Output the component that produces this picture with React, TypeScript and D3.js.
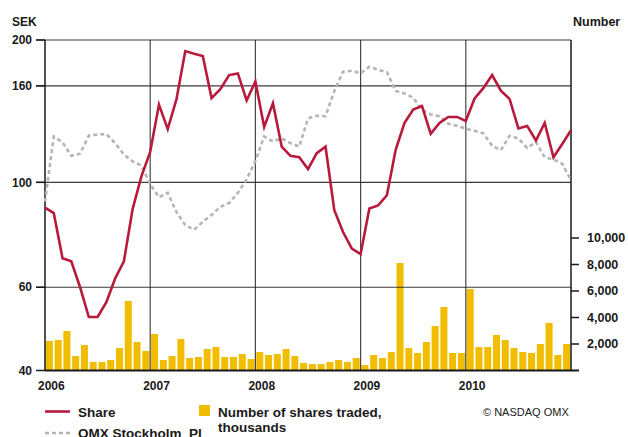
import * as d3 from 'd3';

const years = ['2006', '2007', '2008', '2009', '2010'];

// monthly closing points, Jan 2006 .. Jan 2011 (SEK)
const share = [
  88.4, 86.1, 69.1, 68.1, 60, 51.9, 51.9, 55.8, 62.6, 68.1, 87.9, 103, 116,
  146, 129.6, 150, 189.5, 187, 185, 150.7, 157.4, 168.6, 170, 149, 163.4,
  131, 147, 119, 113.8, 113, 106.7, 115.3, 119, 87.3, 78.5, 72.4, 70.5,
  88, 89.4, 93.9, 117.2, 133.5, 142.5, 145, 126.6, 133.5, 137.5, 137.5, 134.8,
  150.4, 158.2, 168.6, 156.3, 150, 130, 131.6, 122.6, 133.5, 113, 120.5, 128.9,
];

const omx = [
  91, 125, 121.5, 113.8, 115, 125.6, 126.2, 126.5, 121, 114.5, 110.7, 108.5, 99,
  93, 95, 86.5, 81.2, 79.4, 82.5, 85.3, 88.8, 90.4, 95, 101.5, 111,
  125, 122, 123.9, 121, 119, 136.5, 138.3, 138, 156, 171.4, 172.2, 170,
  175.5, 173, 171, 156, 154.2, 151, 142.5, 139.2, 138, 133, 131.8, 129.8,
  128.5, 127, 119.5, 117, 125.5, 123.8, 118.2, 121.7, 113, 111.8, 109.5, 101,
];

// shares traded per month, thousands
const volume = [
  2230, 2300, 2980, 1090, 1920, 640, 640, 790, 1700, 5250, 2150, 1470,
  2750, 790, 1090, 2380, 940, 1020, 1620, 1770, 1020, 1020, 1240, 870,
  1390, 1170, 1240, 1620, 1090, 570, 490, 490, 640, 790, 640, 940,
  415, 1170, 940, 1390, 8110, 1700, 1320, 2150, 3360, 4790, 1320, 1320,
  6150, 1770, 1770, 2680, 2300, 1700, 1390, 1320, 2000, 3590, 1170, 2000,
];

const sekTicks = [40, 60, 100, 160, 200];
const volTicks = [2000, 4000, 6000, 8000, 10000];

const RED = '#b81a3d';
const GREY = '#b5b5b5';
const YELLOW = '#f1bd00';
const INK = '#1a1a1a';
const FONT = '"Liberation Sans", Arial, sans-serif';

export default function App() {
  const width = 628;
  const height = 437;
  const left = 45;
  const right = 571;
  const top = 40;
  const bottom = 370.5;

  const x = d3.scaleLinear().domain([0, share.length - 1]).range([left, right]);
  const xYear = d3.scaleLinear().domain([0, years.length]).range([left, right]);
  const xBar = d3.scaleBand<number>()
    .domain(d3.range(volume.length))
    .range([left, right])
    .paddingInner(0.2)
    .paddingOuter(0.1);
  const y = d3.scaleLog().domain([40, 200]).range([bottom, top]);
  const yVol = d3.scaleLinear().domain([0, 10000]).range([bottom, 238]);

  const line = d3.line<number>()
    .x((_, i) => x(i))
    .y(d => y(d));

  return (
    <svg
      width={width}
      height={height}
      style={{ position: 'absolute', left: 0, top: 0, display: 'block' }}
      fontFamily={FONT}
    >
      <rect width={width} height={height} fill="#fff" />

      {/* volume bars */}
      {volume.map((v, i) => (
        <rect
          key={i}
          x={xBar(i)}
          y={yVol(v)}
          width={xBar.bandwidth()}
          height={bottom - yVol(v)}
          fill={YELLOW}
        />
      ))}

      {/* horizontal grid + left ticks */}
      {sekTicks.map(t => (
        <g key={t}>
          {t !== 40 && (
            <line x1={36} x2={right} y1={y(t)} y2={y(t)} stroke={INK} strokeWidth={1.2} opacity={0.85} />
          )}
          <line x1={36} x2={left} y1={y(t)} y2={y(t)} stroke={INK} strokeWidth={1.5} />
          <text x={32} y={y(t)} dy="0.35em" textAnchor="end" fontSize={12} fontWeight="bold" fill={INK}>
            {t}
          </text>
        </g>
      ))}

      {/* year grid */}
      {years.map((yr, i) => (
        <g key={yr}>
          {i > 0 && (
            <line x1={xYear(i)} x2={xYear(i)} y1={top} y2={bottom} stroke={INK} strokeWidth={1.2} opacity={0.8} />
          )}
          <text x={xYear(i) - 7} y={390} fontSize={12} fontWeight="bold" fill={INK}>
            {yr}
          </text>
        </g>
      ))}

      {/* frame */}
      <line x1={left} x2={left} y1={top} y2={bottom} stroke={INK} strokeWidth={1.5} />
      <line x1={right} x2={right} y1={top} y2={bottom} stroke={INK} strokeWidth={1.5} />
      <line x1={left} x2={579} y1={bottom} y2={bottom} stroke={INK} strokeWidth={2} />

      {/* right axis */}
      {volTicks.map(t => (
        <g key={t}>
          <line x1={right} x2={579} y1={yVol(t)} y2={yVol(t)} stroke={INK} strokeWidth={1.5} />
          <text x={587} y={yVol(t)} dy="0.35em" fontSize={12.5} fontWeight="bold" fill={INK}>
            {d3.format(',')(t)}
          </text>
        </g>
      ))}

      {/* index and share lines */}
      <path d={line(omx) ?? ''} fill="none" stroke={GREY} strokeWidth={2.6} strokeDasharray="4 3" />
      <path d={line(share) ?? ''} fill="none" stroke={RED} strokeWidth={2.6} strokeLinejoin="miter" />

      {/* axis titles */}
      <text x={12} y={26} fontSize={12} fontWeight="bold" fill={INK}>SEK</text>
      <text x={573} y={26} fontSize={12.5} fontWeight="bold" fill={INK}>Number</text>

      {/* legend */}
      <line x1={45} x2={70} y1={411.5} y2={411.5} stroke={RED} strokeWidth={2.6} />
      <text x={78} y={416.5} fontSize={13.5} fontWeight="bold" fill={INK}>Share</text>
      <line x1={45} x2={70} y1={433} y2={433} stroke={GREY} strokeWidth={2.6} strokeDasharray="4 3" />
      <text x={78} y={438} fontSize={13.5} fontWeight="bold" fill={INK}>OMX Stockholm_PI</text>
      <rect x={199} y={405} width={11} height={11} fill={YELLOW} />
      <text x={218} y={416.5} fontSize={13.5} fontWeight="bold" fill={INK}>Number of shares traded,</text>
      <text x={218} y={432} fontSize={13.5} fontWeight="bold" fill={INK}>thousands</text>
      <text x={483} y={416} fontSize={11} fill={INK}>© NASDAQ OMX</text>
    </svg>
  );
}
